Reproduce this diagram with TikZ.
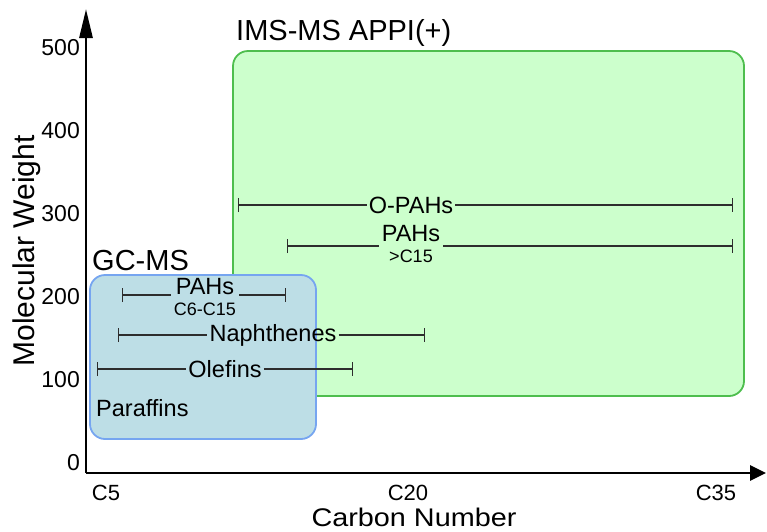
\documentclass[tikz,border=0pt]{standalone}
\usepackage{fontspec}
\setmainfont{Liberation Sans}
\usetikzlibrary{arrows.meta}
\definecolor{gfill}{RGB}{204,255,204}
\definecolor{gline}{RGB}{78,190,78}
\definecolor{bfill}{RGB}{189,222,230}
\definecolor{bline}{RGB}{118,165,240}
\definecolor{barc}{RGB}{45,45,45}

\begin{document}
\begin{tikzpicture}[x=1pt,y=-1pt,
  fsz/.style={font=\fontsize{#1}{#1}\selectfont},
  region/.style={rounded corners=15pt, line width=1.8pt, inner sep=0pt},
  rng/.style={draw=barc, line width=1.2pt},
  lft/.style={rng, {Bar[width=14pt,line width=1.2pt]}-},
  rgt/.style={rng, -{Bar[width=14pt,line width=1.2pt]}},
  lbl/.style={fsz=23.5, inner sep=2pt},
  tick/.style={fsz=23, inner sep=0pt}]
\useasboundingbox (0,0) rectangle (767,531);

% measurement regions
\node[region, draw=gline, fill=gfill, minimum width=511pt, minimum height=345pt] (ims) at (488.5,223.5) {};
\node[region, draw=bline, fill=bfill, minimum width=226pt, minimum height=164pt] (gc) at (203,357) {};
\node[fsz=29, anchor=base west, inner sep=0pt] (imsT) at (236,40) {IMS-MS APPI(+)};
\node[fsz=29, anchor=base west, inner sep=0pt] (gcT) at (92,270) {GC-MS};

% axes
\coordinate (O) at (86,473);
\coordinate (ytop) at (86,9);
\coordinate (xend) at (766,473);
\draw[line width=2.8pt, -{Triangle[length=29pt,width=13pt]}] (O) -- (ytop);
\draw[line width=2.8pt, -{Triangle[length=16pt,width=15pt]}] (O) -- (xend);

% axis ticks and titles
\foreach \v [count=\i from 0] in {0,100,200,300,400,500}
  \node[tick, anchor=east] (y\v) at (80,463-83*\i) {\v};
\node[fsz=22, inner sep=0pt] (c5) at (106,493) {C5};
\node[fsz=22, inner sep=0pt] (c20) at (408,493) {C20};
\node[fsz=22, inner sep=0pt] (c35) at (716,493) {C35};
\node[fsz=25.5, inner sep=0pt, anchor=base, xscale=1.13] (xt) at (414,526) {Carbon Number};
\node[fsz=30, inner sep=0pt, rotate=90] (yt) at (27,251) {Molecular Weight};

% compound ranges
\coordinate (opL) at (238,205); \coordinate (opR) at (733,205);
\node[lbl] (op) at (411,205) {O-PAHs};
\draw[lft] (opL) -- (op.west);
\draw[rgt] (op.east) -- (opR);

\coordinate (phL) at (287,246); \coordinate (phR) at (733,246);
\node[lbl, align=center, inner sep=3pt] (ph) at (411,244) {\fontsize{23.5}{18}\selectfont PAHs\\[-3pt]\fontsize{18}{16}\selectfont >C15};
\draw[lft] (phL) -- (phL -| ph.west);
\draw[rgt] (phR -| ph.east) -- (phR);

\coordinate (pcL) at (122,295); \coordinate (pcR) at (286,295);
\node[lbl, align=center, inner sep=3pt] (pc) at (205,297) {\fontsize{23.5}{18}\selectfont PAHs\\[-3pt]\fontsize{18}{16}\selectfont C6-C15};
\draw[lft] (pcL) -- (pcL -| pc.west);
\draw[rgt] (pcR -| pc.east) -- (pcR);

\coordinate (naL) at (118,335); \coordinate (naR) at (425,335);
\node[lbl] (na) at (273,335) {Naphthenes};
\draw[lft] (naL) -- (na.west);
\draw[rgt] (na.east) -- (naR);

\coordinate (olL) at (97,369); \coordinate (olR) at (353,369);
\node[lbl] (ol) at (225,369) {Olefins};
\draw[lft] (olL) -- (ol.west);
\draw[rgt] (ol.east) -- (olR);

\node[lbl, anchor=west, inner sep=0pt] (pa) at (96,408) {Paraffins};
\end{tikzpicture}
\end{document}
